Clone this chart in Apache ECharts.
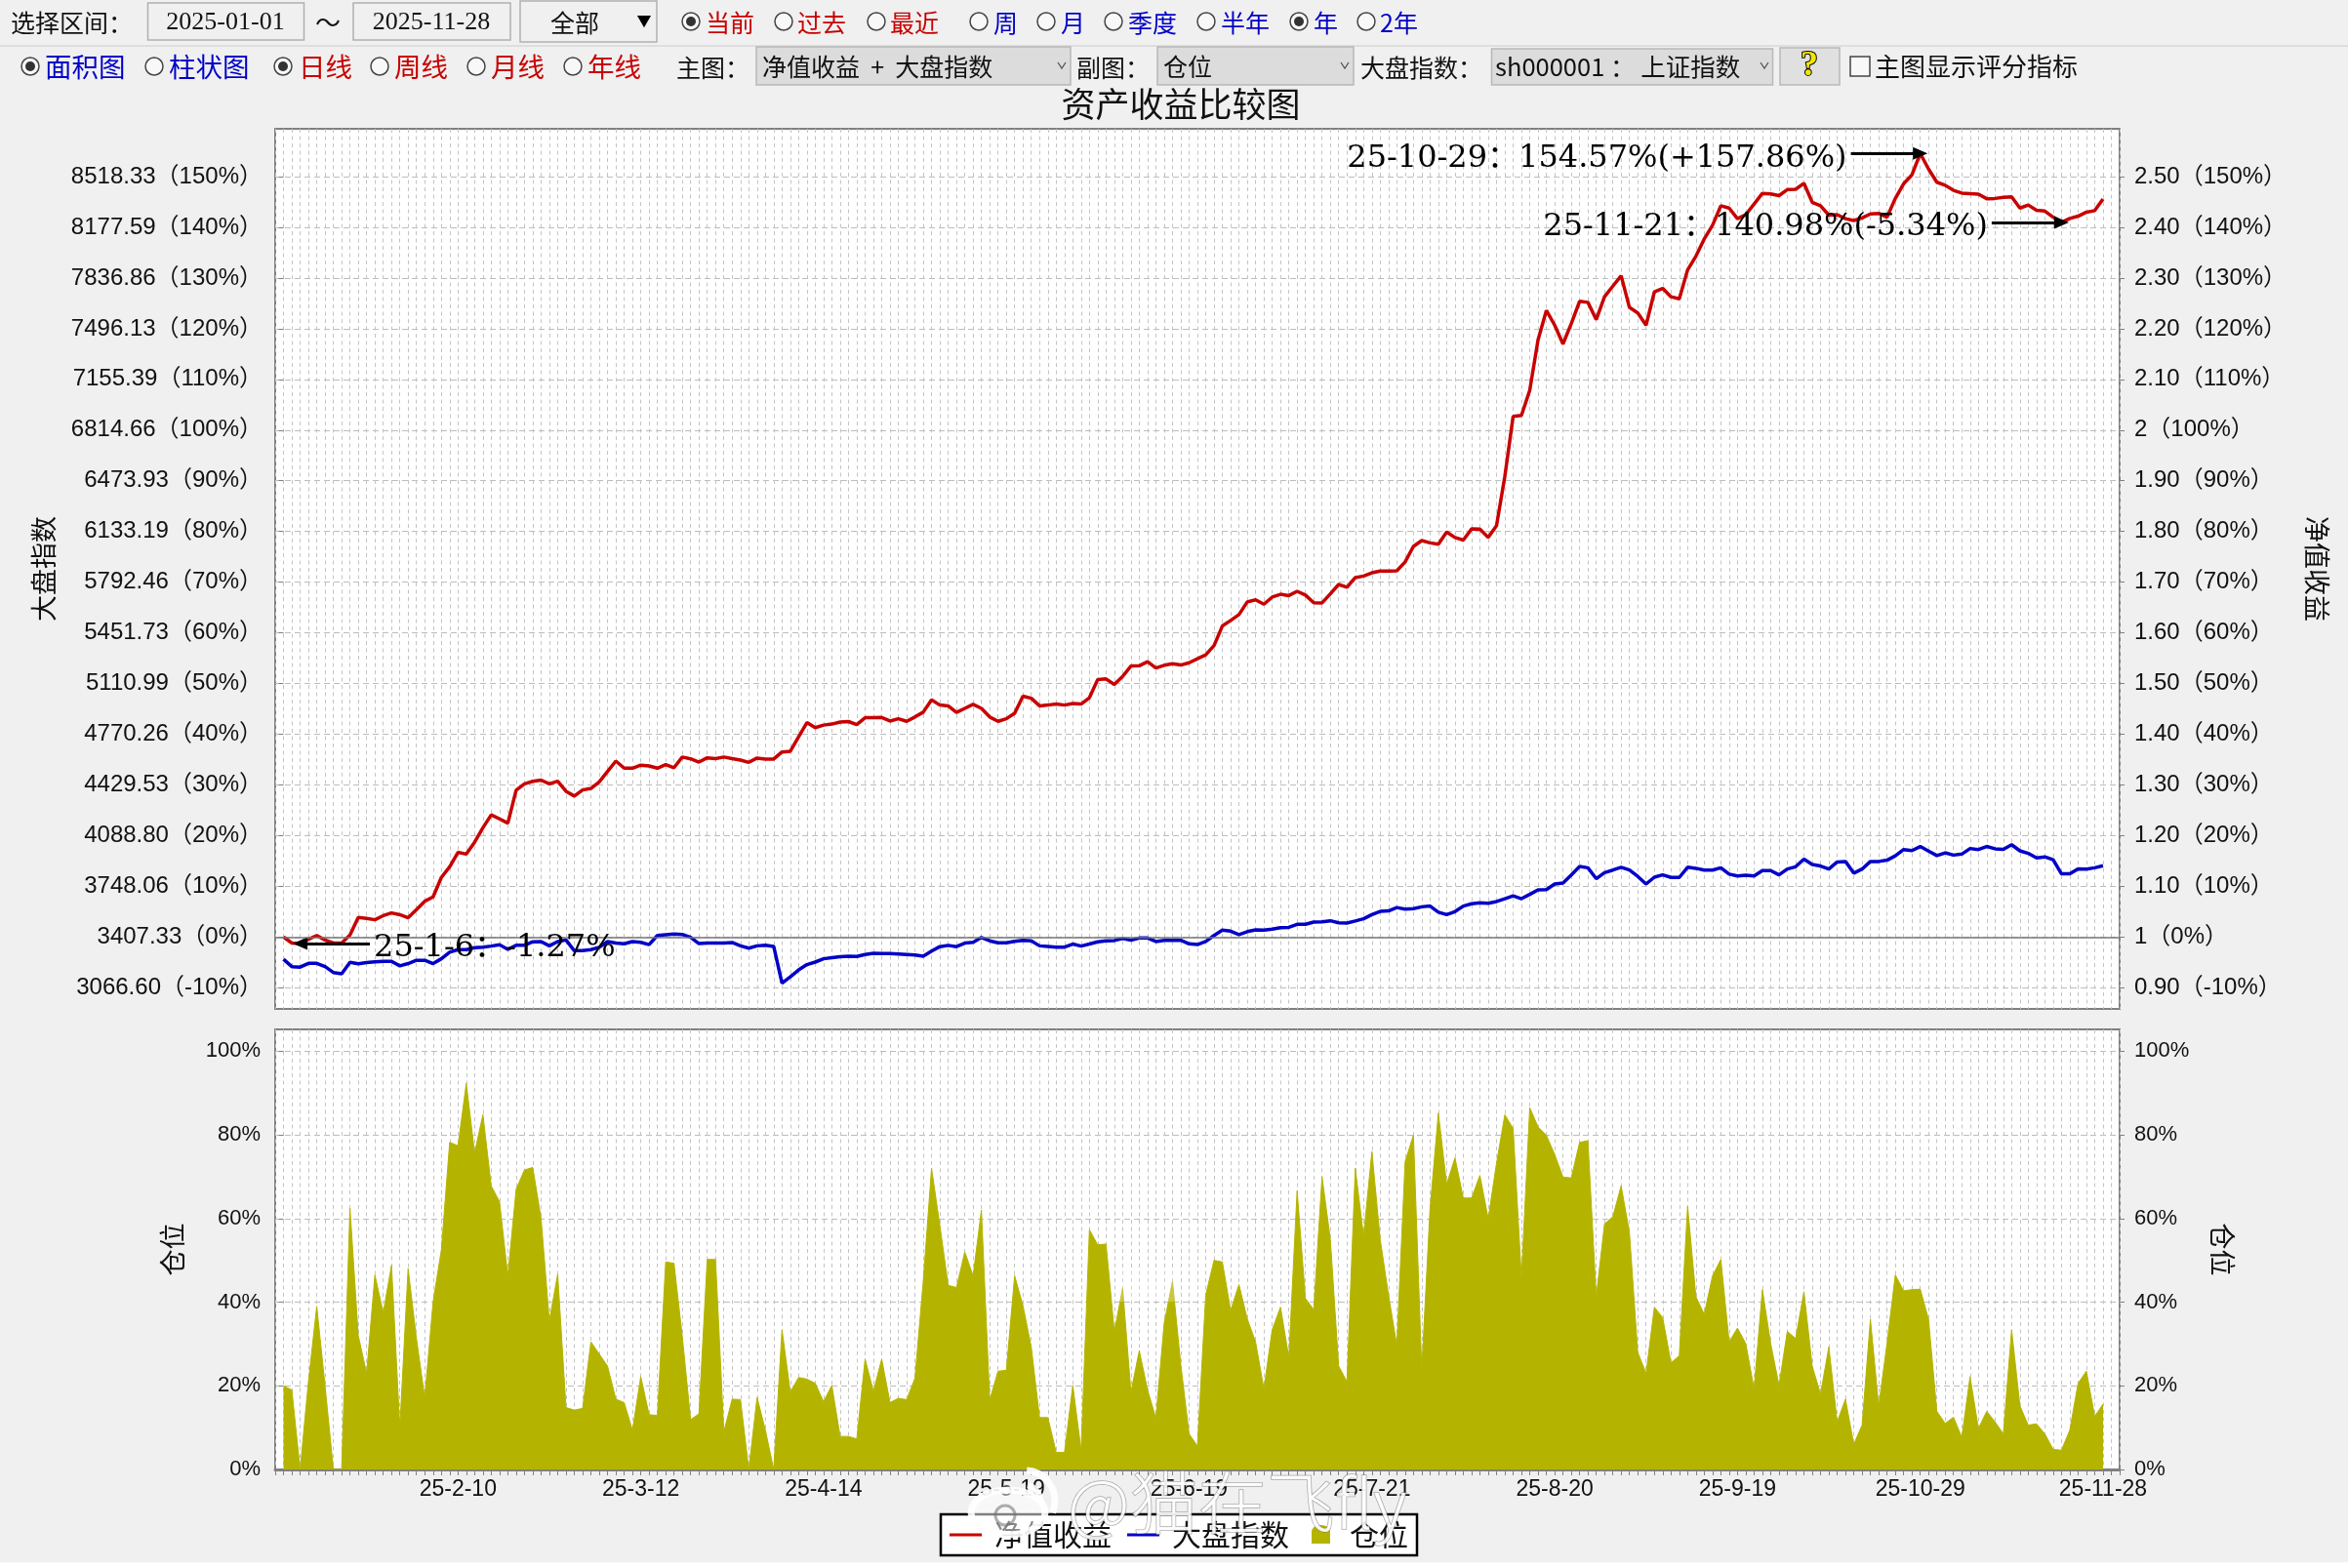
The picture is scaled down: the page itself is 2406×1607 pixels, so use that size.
<!DOCTYPE html>
<html><head><meta charset="utf-8"><title>资产收益比较图</title>
<style>html,body{margin:0;padding:0;background:#f0f0f0}#c{width:2406px;height:1607px}</style>
<script src="https://cdn.jsdelivr.net/npm/echarts@6/dist/echarts.min.js"></script></head>
<body><div id="c"></div><script>
const netPct=[0,-1.2,-1.27,-0.45,0.3,-0.6,-1.2,-1.2,0.4,3.85,3.65,3.4,4.2,4.75,4.4,3.8,5.4,7.05,7.9,11.75,13.85,16.7,16.35,18.7,21.55,24.1,23.3,22.45,28.95,30.2,30.7,30.95,30.2,30.75,28.75,27.8,29,29.3,30.6,32.65,34.7,33.3,33.3,33.9,33.75,33.3,34,33.4,35.5,35.15,34.5,35.35,35.2,35.5,35.2,34.9,34.45,35.3,35.1,35.1,36.5,36.65,39.5,42.3,41.3,41.8,42,42.4,42.5,41.9,43.25,43.25,43.3,42.6,43.05,42.55,43.4,44.35,46.8,45.75,45.6,44.3,45.1,45.9,45.1,43.4,42.55,43.05,44.15,47.5,47.1,45.6,45.75,45.95,45.75,46.05,45.95,47.2,50.8,50.9,49.8,51.4,53.45,53.5,54.3,53.05,53.6,53.9,53.65,54.1,54.9,55.65,57.5,61.35,62.45,63.6,66.1,66.5,65.65,67.05,67.6,67.35,68.2,67.45,65.95,65.9,67.7,69.55,69,70.9,71.2,71.85,72.2,72.2,72.25,74,77.05,78.2,77.75,77.5,79.9,78.8,78.3,80.5,80.45,78.85,81.15,90.85,102.7,102.9,107.85,117.8,123.6,120.7,117,121,125.4,125.2,121.8,126.3,128.4,130.45,124.2,123.1,120.7,127.25,127.95,126.3,125.9,131.6,134.3,137.7,140.4,144.25,143.8,141.7,142.5,144.6,146.7,146.6,146.25,147.45,147.5,148.7,144.95,144.25,142.4,142.5,141.7,141.35,141.85,142.65,142.75,142,145.7,148.6,150.35,154.57,151.5,148.9,148.3,147.3,146.75,146.65,146.55,145.65,145.7,145.9,146,143.8,144.4,143.35,143.2,142,140.98,141.75,142.2,143,143.3,145.6];
const indexPct=[-4.4,-5.85,-5.95,-5.2,-5.2,-5.85,-7,-7.25,-5,-5.3,-5.05,-4.9,-4.8,-4.8,-5.7,-5.25,-4.6,-4.6,-5.25,-4.3,-3,-2.5,-2.5,-2.1,-2,-1.8,-1.55,-2.45,-1.65,-1.65,-0.95,-0.9,-1.75,-0.9,-0.6,-2.7,-2.7,-2.5,-2.05,-0.9,-1.2,-1.35,-0.9,-1.05,-1.5,0.3,0.45,0.6,0.5,-0.05,-1.3,-1.2,-1.2,-1.2,-1.1,-1.75,-2.2,-1.75,-1.65,-1.85,-9.1,-7.85,-6.5,-5.45,-4.95,-4.3,-4.1,-3.9,-3.8,-3.85,-3.45,-3.2,-3.25,-3.25,-3.35,-3.45,-3.55,-3.8,-2.8,-1.9,-1.65,-1.9,-1.2,-1.05,-0.1,-0.75,-1.15,-1.15,-0.85,-0.65,-0.75,-1.75,-1.85,-2,-2,-1.4,-1.8,-1.4,-0.95,-0.75,-0.7,-0.3,-0.65,-0.2,-0.2,-0.9,-0.65,-0.65,-0.65,-1.35,-1.5,-0.9,0.3,1.35,1.15,0.45,1.05,1.4,1.35,1.55,1.85,1.9,2.5,2.5,2.95,3,3.2,2.8,2.75,3.15,3.6,4.4,5.05,5.15,5.8,5.5,5.6,5.95,6.1,4.9,4.4,5,6.1,6.55,6.75,6.65,7,7.55,8.1,7.55,8.4,9.3,9.35,10.45,10.65,12.25,13.9,13.65,11.5,12.7,13.2,13.75,13.2,11.95,10.45,11.8,12.25,11.75,11.75,13.75,13.55,13.2,13.2,13.65,12.4,12.05,12.2,12.05,13.1,13.1,12.25,13.4,13.85,15.35,14.3,14,13.4,14.8,14.9,12.6,13.4,14.9,14.9,15.15,16,17.25,17.05,17.85,16.95,16.05,16.6,16.15,16.35,17.45,17.25,17.85,17.4,17.3,18.2,17,16.5,15.6,15.8,15.25,12.45,12.45,13.45,13.4,13.65,14.05];
const position=[20,19,0,21,39,20,0,0,62.5,32,23,46.5,37.5,48.8,10,48,31.3,17.2,40,52.5,78.2,77.4,92.3,75.7,84.8,67.8,64,46.3,67,71.6,72.2,60,35.5,46.7,14.8,14.2,14.6,30.5,27.6,24.7,16.8,16,9.4,22.2,13.1,12.9,49.6,49.3,31.8,11.9,13.3,50.2,50.2,9,16.8,16.7,0,17.2,9.4,0,33.4,18.5,22,21.6,20.6,16.2,20.1,7.9,7.9,7.3,26.4,18.7,26.4,16,17,16.7,21.8,45,72,58.3,44,43.5,52,46.3,62,16.6,23.5,23.7,46.3,39.2,29.3,12.4,12.4,4.1,4.1,20.1,4.6,57.3,53.7,53.9,33,43.4,18.5,28.4,19,12.3,35,45,25,8.5,5.6,41.7,50,49.6,38,44.2,36,30.5,19.3,33.4,38.8,26.8,66.6,40.9,38.2,70,55,24.7,21,72,55.8,76,55,41.7,29.7,73.6,79.9,23.9,62.4,85.2,68.2,74.5,64.9,64.9,70.3,60,73.2,84.8,81.5,45.9,86.5,81.9,79.9,75.3,69.9,69.7,78.2,78.6,41.3,58.7,60.4,67.8,56.6,28,23,38.8,36.3,25.5,27.2,62.9,41.3,37.1,46.3,50.2,30.5,33.8,30.1,19.3,43,30.1,20.1,33,31.3,42.5,24.7,18,29.3,11.4,16.8,6,10.6,35.9,15.2,30.1,46.5,42.7,43,43.1,35.9,13.9,11,12.5,7.7,22.2,9.8,13.9,11.4,8.5,33.4,15.2,10.6,10.9,8.5,4.8,4.6,9.4,20.6,23.5,12.7,15.6];

const tickIndex=[21,43,65,87,109,131,153,175,197,219];
const tickLabels=['25-2-10','25-3-12','25-4-14','25-5-19','25-6-19','25-7-21','25-8-20','25-9-19','25-10-29','25-11-28'];
const pctTicks=[150,140,130,120,110,100,90,80,70,60,50,40,30,20,10,0,-10];
const indexTicks=['8518.33','8177.59','7836.86','7496.13','7155.39','6814.66','6473.93','6133.19','5792.46','5451.73','5110.99','4770.26','4429.53','4088.80','3748.06','3407.33','3066.60'];
const netTicks=['2.50','2.40','2.30','2.20','2.10','2','1.90','1.80','1.70','1.60','1.50','1.40','1.30','1.20','1.10','1','0.90'];
const positionTicks=[0,20,40,60,80,100];
const noteLabels=['25-10-29：154.57%(+157.86%)','25-11-21：140.98%(-5.34%)','25-1-6：-1.27%'];
const noteIndex=[197,214,2];
const noteValue=[154.57,140.98,-1.27];
const noteStart=[188.65,205.6,10.4];

const SANS='"Liberation Sans","Noto Sans CJK SC",sans-serif', CJK='"Noto Sans CJK SC",sans-serif', SER='"DejaVu Serif","Noto Sans CJK SC",serif';
const GRAY='#808080', DOT='#c4c4c4';
const pts=a=>a.map((v,i)=>[i,v]);
const xBase=(g,extra)=>Object.assign({type:'value',gridIndex:g,min:-1,max:221,interval:1,
  splitLine:{show:true,lineStyle:{color:DOT,width:1,type:[4,3.5]}}},extra);
const yBase=(g,pos,minv,maxv,vals,fmt,name,rot,gap,margin,fs)=>({type:'value',gridIndex:g,position:pos,min:minv,max:maxv,
  axisLine:{show:false},
  axisTick:{show:true,length:5,customValues:vals,lineStyle:{color:GRAY}},
  axisLabel:{show:true,customValues:vals,formatter:fmt,margin:margin,fontFamily:SANS,fontSize:fs,color:'#111'},
  splitLine:{show:true,customValues:vals,lineStyle:{color:'#bdbdbd',width:1,type:[6,4]}},
  name:name,nameLocation:'middle',nameRotate:rot,nameGap:gap,nameTextStyle:{fontFamily:CJK,fontSize:27,color:'#111'}});

// ---- toolbar (layout only)
const T=(text,x,y,fs,fill,extra)=>({type:'text',z:50,style:Object.assign({text,x,y,fontSize:fs,fontFamily:CJK,fill:fill||'#111',textVerticalAlign:'middle'},extra||{})});
const R=(x,y,w,h,fill,stroke)=>({type:'rect',z:49,shape:{x,y,width:w,height:h},style:{fill,stroke,lineWidth:1.5}});
const radio=(x,y,on)=>{const a=[{type:'circle',z:49,shape:{cx:x,cy:y,r:9},style:{fill:'#f8f8f8',stroke:'#444',lineWidth:1.5}}];
  if(on)a.push({type:'circle',z:50,shape:{cx:x,cy:y,r:5},style:{fill:'#333'}});return a;};
const chev=(x,y)=>({type:'polyline',z:50,shape:{points:[[x-4,y-3],[x,y+3],[x+4,y-3]]},style:{stroke:'#555',fill:'none',lineWidth:1.3}});
const RED='#c80000',BLUE='#0000c8';
const row1=[['当前',708,723,RED,1],['过去',803,817,RED,0],['最近',898,912,RED,0],['周',1003,1018,BLUE,0],['月',1072,1087,BLUE,0],['季度',1141,1156,BLUE,0],['半年',1236,1251,BLUE,0],['年',1331,1346,BLUE,1],['2年',1400,1414,BLUE,0]];
const row2=[['面积图',31,46,BLUE,1],['柱状图',158,173,BLUE,0],['日线',290,306,RED,1],['周线',389,404,RED,0],['月线',488,503,RED,0],['年线',587,602,RED,0]];
const g=[];
const DATEF='"Liberation Serif",serif';
g.push(R(0,1602,2406,5,'#ffffff','#ffffff'));
g.push({type:'line',z:48,shape:{x1:0,y1:47,x2:2406,y2:47},style:{stroke:'#d8d8d8',lineWidth:1.5}});
g.push(T('选择区间：',11,23,25));
g.push(R(151.5,3,160,38,'#f0f0f0','#b0b0b0'),T('2025-01-01',231,23,26,'#111',{textAlign:'center',fontFamily:DATEF}));
g.push(T('～',323,23,26));
g.push(R(362,3,161,38,'#f0f0f0','#b0b0b0'),T('2025-11-28',442,23,26,'#111',{textAlign:'center',fontFamily:DATEF}));
g.push(R(533,1,140,42,'#f0f0f0','#b0b0b0'),T('全部',589,23,25,'#111',{textAlign:'center'}),T('▼',660,21,15,'#000',{textAlign:'center'}));
row1.forEach(r=>{g.push(...radio(r[1],22,r[4]),T(r[0],r[2],23,25,r[3]));});
row2.forEach(r=>{g.push(...radio(r[1],68,r[4]),T(r[0],r[2],69,27.5,r[3]));});
g.push(T('主图：',693,69,25));
g.push(R(775,48,322,39,'#dcdcdc','#b8b8b8'),T('净值收益  +  大盘指数',781,68,25),chev(1088,67));
g.push(T('副图：',1103,69,25));
g.push(R(1186,48,201,39,'#dcdcdc','#b8b8b8'),T('仓位',1192,68,25),chev(1378,67));
g.push(T('大盘指数：',1394,69,25));
g.push(R(1528.5,50,288,37,'#dcdcdc','#b8b8b8'),T('sh000001 ： 上证指数',1532,68,25.5),chev(1808,67));
g.push(R(1824,49,61,38,'#e0e0e0','#b8b8b8'),T('?',1854,68,36,'#f2e600',{textAlign:'center',fontWeight:'bold',fontFamily:DATEF,stroke:'#000',lineWidth:2}));
g.push(R(1896,58,20,20,'#f8f8f8','#444'),T('主图显示评分指标',1921,68,26));
g.push({type:'text',z:50,style:{text:'资产收益比较图',x:1210,y:107,fontSize:35,fontFamily:CJK,fill:'#111',textAlign:'center',textVerticalAlign:'middle'}});
// watermark
const WM='rgba(255,255,255,0.9)', EDGE='rgba(110,110,110,0.55)';
g.push(R(1143,1300,61,34,'rgba(255,255,255,0.25)','rgba(255,255,255,0)'));
g.push({type:'text',z:60,style:{text:'@猫在飞fly',x:1094,y:1540,fontSize:70,fontFamily:CJK,fontWeight:300,fill:WM,stroke:EDGE,lineWidth:1.5,textVerticalAlign:'middle'}});
g.push({type:'ellipse',z:60,shape:{cx:1033,cy:1550,rx:38,ry:23},style:{fill:'rgba(255,255,255,0.5)',stroke:WM,lineWidth:7}});
g.push({type:'circle',z:60,shape:{cx:1030,cy:1553,r:10},style:{fill:'none',stroke:EDGE,lineWidth:3}});
g.push({type:'arc',z:60,shape:{cx:1050,cy:1538,r:31,startAngle:-1.5,endAngle:0.4},style:{stroke:WM,lineWidth:7,fill:'none'}});
g.push({type:'arc',z:60,shape:{cx:1050,cy:1538,r:16,startAngle:-1.4,endAngle:0.2},style:{stroke:WM,lineWidth:6,fill:'none'}});

const noteLine=i=>[{coord:[noteStart[i],noteValue[i]],symbol:'none',
    label:{show:true,position:'start',distance:4,offset:[0,5],formatter:noteLabels[i],fontFamily:SER,fontSize:32,color:'#000'}},
  {coord:[noteIndex[i],noteValue[i]],symbol:'triangle',symbolSize:[13,15]}];
const box='M0 0L0 0ZM33 30L33 30Z';
const lineIcon='path://'+box+'M0 13.5L33 13.5L33 16.5L0 16.5Z';

const option={animation:false,backgroundColor:'#f0f0f0',
 graphic:{elements:g},
 grid:[{left:282,top:132,width:1890,height:902,show:true,backgroundColor:'#fff',borderColor:GRAY,borderWidth:2,containLabel:false},
       {left:282,top:1055,width:1890,height:451,show:true,backgroundColor:'#fff',borderColor:GRAY,borderWidth:2,containLabel:false}],
 xAxis:[xBase(0,{axisLine:{show:false},axisTick:{show:false},axisLabel:{show:false}}),
        xBase(1,{axisLine:{show:true,lineStyle:{color:GRAY,width:3}},axisTick:{show:true,length:6,lineStyle:{color:GRAY}},
          axisLabel:{show:true,customValues:tickIndex,margin:9,fontFamily:SANS,fontSize:23,color:'#111',hideOverlap:false,
            formatter:v=>tickLabels[tickIndex.indexOf(v)]||''}})],
 yAxis:[yBase(0,'left',-14.19,159.44,pctTicks,v=>indexTicks[pctTicks.indexOf(v)]+'（'+v+'%）','大盘指数',90,224,13,24),
        yBase(0,'right',-14.19,159.44,pctTicks,v=>netTicks[pctTicks.indexOf(v)]+'（'+v+'%）','净值收益',-90,189,15,24),
        yBase(1,'left',0,105.2,positionTicks,v=>v+'%','仓位',90,92,15,22),
        yBase(1,'right',0,105.2,positionTicks,v=>v+'%','仓位',-90,92,15,22)],
 legend:{left:964,top:1552,orient:'horizontal',padding:[6,9],itemGap:16,itemWidth:33,itemHeight:30,backgroundColor:'#fff',borderColor:'#000',borderWidth:2.5,
   textStyle:{fontFamily:CJK,fontSize:30,color:'#111',padding:[0,0,0,8]},
   data:[{name:'净值收益',icon:lineIcon},{name:'大盘指数',icon:lineIcon},{name:'仓位',icon:'path://'+box+'M7 24L7 13Q7 5 16.5 5Q26 5 26 13L26 24Z'}]},
 series:[
  {name:'净值收益',type:'line',xAxisIndex:0,yAxisIndex:0,data:pts(netPct),symbol:'none',z:3,color:'#c80000',lineStyle:{color:'#c80000',width:3.5},
   markLine:{silent:true,animation:false,symbol:['none','triangle'],lineStyle:{color:'#000',width:3,type:'solid'},data:[noteLine(0),noteLine(1),noteLine(2)]}},
  {name:'大盘指数',type:'line',xAxisIndex:0,yAxisIndex:0,data:pts(indexPct),symbol:'none',z:2,color:'#0000c8',lineStyle:{color:'#0000c8',width:3.5},
   markLine:{silent:true,animation:false,symbol:['none','none'],label:{show:false},lineStyle:{color:'#777',width:1.5,type:'solid'},data:[{yAxis:0}]}},
  {name:'仓位',type:'line',xAxisIndex:1,yAxisIndex:2,data:pts(position),symbol:'none',color:'#b4b400',lineStyle:{color:'#b4b400',width:1},areaStyle:{color:'#b4b400',opacity:1}}
 ]};
echarts.init(document.getElementById('c')).setOption(option);
</script></body></html>
